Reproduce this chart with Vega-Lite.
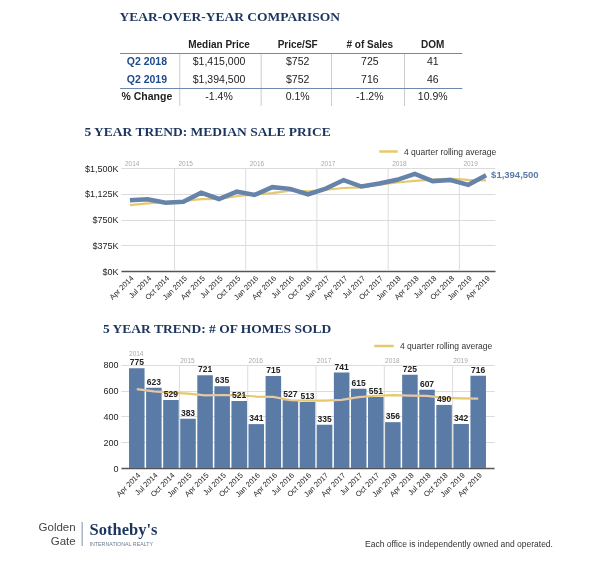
{
  "$schema": "https://vega.github.io/schema/vega-lite/v6.json",
  "background": "white",
  "padding": {"left": 38, "top": 9, "right": 5, "bottom": 5},
  "bounds": "flush",
  "spacing": 62,
  "resolve": {"scale": {"color": "independent"}, "legend": {"color": "independent"}},
  "config": {
    "view": {"stroke": null},
    "font": "Liberation Sans",
    "title": {"font": "Liberation Serif", "fontSize": 13.5, "fontWeight": "bold", "color": "#1c355e", "anchor": "start"},
    "axis": {"labelFont": "Liberation Sans", "labelColor": "#222", "ticks": false, "labelOverlap": false},
    "axisX": {"domain": true, "domainColor": "#555", "domainWidth": 1.5, "labelAngle": -45, "labelFontSize": 7.5, "grid": false, "labelPadding": 3},
    "axisY": {"domain": false, "grid": true, "gridColor": "#dcdcdc", "labelFontSize": 9, "labelPadding": 3, "tickCount": 10}
  },
  "datasets": {
    "q": [
      {"q": "Apr 2014", "price": 1030000, "priceAvg": 960000, "sales": 775, "salesAvg": 613},
      {"q": "Jul 2014", "price": 1044000, "priceAvg": 985000, "sales": 623, "salesAvg": 595},
      {"q": "Oct 2014", "price": 995000, "priceAvg": 1005000, "sales": 529, "salesAvg": 585},
      {"q": "Jan 2015", "price": 1009000, "priceAvg": 1020000, "sales": 383, "salesAvg": 578},
      {"q": "Apr 2015", "price": 1141000, "priceAvg": 1047000, "sales": 721, "salesAvg": 564},
      {"q": "Jul 2015", "price": 1049000, "priceAvg": 1049000, "sales": 635, "salesAvg": 567},
      {"q": "Oct 2015", "price": 1156000, "priceAvg": 1089000, "sales": 521, "salesAvg": 565},
      {"q": "Jan 2016", "price": 1108000, "priceAvg": 1114000, "sales": 341, "salesAvg": 555},
      {"q": "Apr 2016", "price": 1221000, "priceAvg": 1134000, "sales": 715, "salesAvg": 553},
      {"q": "Jul 2016", "price": 1196000, "priceAvg": 1170000, "sales": 527, "salesAvg": 526},
      {"q": "Oct 2016", "price": 1115000, "priceAvg": 1160000, "sales": 513, "salesAvg": 524},
      {"q": "Jan 2017", "price": 1200000, "priceAvg": 1183000, "sales": 335, "salesAvg": 523},
      {"q": "Apr 2017", "price": 1324000, "priceAvg": 1209000, "sales": 741, "salesAvg": 529},
      {"q": "Jul 2017", "price": 1230000, "priceAvg": 1217000, "sales": 615, "salesAvg": 551},
      {"q": "Oct 2017", "price": 1274000, "priceAvg": 1257000, "sales": 551, "salesAvg": 561},
      {"q": "Jan 2018", "price": 1328000, "priceAvg": 1289000, "sales": 356, "salesAvg": 566},
      {"q": "Apr 2018", "price": 1415000, "priceAvg": 1312000, "sales": 725, "salesAvg": 562},
      {"q": "Jul 2018", "price": 1309000, "priceAvg": 1332000, "sales": 607, "salesAvg": 560},
      {"q": "Oct 2018", "price": 1324000, "priceAvg": 1344000, "sales": 490, "salesAvg": 545},
      {"q": "Jan 2019", "price": 1255000, "priceAvg": 1326000, "sales": 342, "salesAvg": 541},
      {"q": "Apr 2019", "price": 1394500, "priceAvg": 1321000, "sales": 716, "salesAvg": 539}
    ],
    "years": [
      {"q": "Apr 2014", "year": "2014"},
      {"q": "Jan 2015", "year": "2015"},
      {"q": "Jan 2016", "year": "2016"},
      {"q": "Jan 2017", "year": "2017"},
      {"q": "Jan 2018", "year": "2018"},
      {"q": "Jan 2019", "year": "2019"}
    ],
    "table": [
      {"row": "Q2 2018", "median": "$1,415,000", "psf": "$752", "sales": "725", "dom": "41"},
      {"row": "Q2 2019", "median": "$1,394,500", "psf": "$752", "sales": "716", "dom": "46"},
      {"row": "% Change", "median": "-1.4%", "psf": "0.1%", "sales": "-1.2%", "dom": "10.9%"}
    ],
    "one": [{}]
  },
  "vconcat": [
    {
      "width": 370,
      "height": 70,
      "title": {"text": "YEAR-OVER-YEAR COMPARISON", "offset": 13},
      "data": {"name": "table"},
      "layer": [
        {"mark": {"type": "rect", "color": "#c8c8c8"}, "encoding": {"x": {"datum": 63, "type": "quantitative", "scale": {"domain": [0, 370]}, "axis": null}, "x2": {"datum": 64}, "y": {"field": "row", "type": "nominal", "scale": {"type": "band", "domain": ["header", "Q2 2018", "Q2 2019", "% Change"], "paddingInner": 0, "paddingOuter": 0}, "axis": null}}},
        {"mark": {"type": "rect", "color": "#c8c8c8"}, "encoding": {"x": {"datum": 151, "type": "quantitative"}, "x2": {"datum": 152}, "y": {"field": "row", "type": "nominal"}}},
        {"mark": {"type": "rect", "color": "#c8c8c8"}, "encoding": {"x": {"datum": 227, "type": "quantitative"}, "x2": {"datum": 228}, "y": {"field": "row", "type": "nominal"}}},
        {"mark": {"type": "rect", "color": "#c8c8c8"}, "encoding": {"x": {"datum": 306, "type": "quantitative"}, "x2": {"datum": 307}, "y": {"field": "row", "type": "nominal"}}},
        {"data": {"name": "one"}, "mark": {"type": "rule", "color": "#6f88ae", "strokeWidth": 1.2}, "encoding": {"x": {"datum": -1, "type": "quantitative"}, "x2": {"datum": 369}, "y": {"datum": "header", "type": "nominal", "bandPosition": 1}}},
        {"data": {"name": "one"}, "mark": {"type": "rule", "color": "#6f88ae", "strokeWidth": 1.2}, "encoding": {"x": {"datum": -1, "type": "quantitative"}, "x2": {"datum": 369}, "y": {"datum": "% Change", "type": "nominal", "bandPosition": 0}}},
        {"data": {"name": "one"}, "mark": {"type": "text", "fontSize": 10, "fontWeight": "bold", "color": "#222"}, "encoding": {"x": {"datum": 106, "type": "quantitative"}, "y": {"datum": "header", "type": "nominal"}, "text": {"value": "Median Price"}}},
        {"data": {"name": "one"}, "mark": {"type": "text", "fontSize": 10, "fontWeight": "bold", "color": "#222"}, "encoding": {"x": {"datum": 191, "type": "quantitative"}, "y": {"datum": "header", "type": "nominal"}, "text": {"value": "Price/SF"}}},
        {"data": {"name": "one"}, "mark": {"type": "text", "fontSize": 10, "fontWeight": "bold", "color": "#222"}, "encoding": {"x": {"datum": 269, "type": "quantitative"}, "y": {"datum": "header", "type": "nominal"}, "text": {"value": "# of Sales"}}},
        {"data": {"name": "one"}, "mark": {"type": "text", "fontSize": 10, "fontWeight": "bold", "color": "#222"}, "encoding": {"x": {"datum": 337, "type": "quantitative"}, "y": {"datum": "header", "type": "nominal"}, "text": {"value": "DOM"}}},
        {"mark": {"type": "text", "fontSize": 10.5, "fontWeight": "bold"}, "encoding": {"x": {"datum": 28, "type": "quantitative"}, "y": {"field": "row", "type": "nominal"}, "text": {"field": "row"}, "color": {"condition": {"test": "datum.row == '% Change'", "value": "#222"}, "value": "#1f4a8a"}}},
        {"mark": {"type": "text", "fontSize": 10.5, "color": "#222"}, "encoding": {"x": {"datum": 106, "type": "quantitative"}, "y": {"field": "row", "type": "nominal"}, "text": {"field": "median"}}},
        {"mark": {"type": "text", "fontSize": 10.5, "color": "#222"}, "encoding": {"x": {"datum": 191, "type": "quantitative"}, "y": {"field": "row", "type": "nominal"}, "text": {"field": "psf"}}},
        {"mark": {"type": "text", "fontSize": 10.5, "color": "#222"}, "encoding": {"x": {"datum": 269, "type": "quantitative"}, "y": {"field": "row", "type": "nominal"}, "text": {"field": "sales"}}},
        {"mark": {"type": "text", "fontSize": 10.5, "color": "#222"}, "encoding": {"x": {"datum": 337, "type": "quantitative"}, "y": {"field": "row", "type": "nominal"}, "text": {"field": "dom"}}}
      ]
    },
    {
      "width": 374,
      "height": 103,
      "title": {"text": "5 YEAR TREND: MEDIAN SALE PRICE", "offset": 3},
      "data": {"name": "q"},
      "layer": [
        {"data": {"name": "years"}, "transform": [{"filter": "datum.year != '2014'"}], "mark": {"type": "rule", "color": "#dcdcdc"}, "encoding": {"x": {"field": "q", "type": "ordinal", "bandPosition": 0}, "y": {"datum": 1500000, "type": "quantitative"}, "y2": {"datum": 0}}},
        {"data": {"name": "years"}, "mark": {"type": "text", "align": "left", "baseline": "bottom", "dx": 4, "dy": -1, "fontSize": 6.5, "color": "#aaaaaa"}, "encoding": {"x": {"field": "q", "type": "ordinal", "bandPosition": 0}, "y": {"datum": 1500000, "type": "quantitative"}, "text": {"field": "year"}}},
        {"mark": {"type": "line", "strokeWidth": 2.2}, "encoding": {"x": {"field": "q", "type": "ordinal", "bandPosition": 0.5}, "y": {"field": "priceAvg", "type": "quantitative"}, "color": {"datum": "4 quarter rolling average", "type": "nominal", "scale": {"range": ["#e6c86e"]}, "legend": {"orient": "none", "legendX": 257, "legendY": -27, "title": null, "symbolType": "stroke", "symbolStrokeWidth": 2.5, "symbolSize": 340, "labelFontSize": 8.5, "labelColor": "#333", "padding": 0, "labelOffset": 5}}}},
        {"mark": {"type": "line", "strokeWidth": 4.5, "color": "#6683aa"}, "encoding": {"x": {"field": "q", "type": "ordinal", "bandPosition": 0.5, "scale": {"type": "band", "domain": ["Apr 2014", "Jul 2014", "Oct 2014", "Jan 2015", "Apr 2015", "Jul 2015", "Oct 2015", "Jan 2016", "Apr 2016", "Jul 2016", "Oct 2016", "Jan 2017", "Apr 2017", "Jul 2017", "Oct 2017", "Jan 2018", "Apr 2018", "Jul 2018", "Oct 2018", "Jan 2019", "Apr 2019"], "paddingInner": 0, "paddingOuter": 0}, "axis": {"title": null}}, "y": {"field": "price", "type": "quantitative", "scale": {"domain": [0, 1500000], "nice": false}, "axis": {"title": null, "values": [0, 375000, 750000, 1125000, 1500000], "labelExpr": "'$' + format(datum.value / 1000, ',') + 'K'"}}}},
        {"transform": [{"filter": "datum.q == 'Apr 2019'"}], "mark": {"type": "text", "align": "left", "dx": 5, "fontSize": 9.5, "fontWeight": "bold", "color": "#5c7aa5"}, "encoding": {"x": {"field": "q", "type": "ordinal", "bandPosition": 0.5}, "y": {"field": "price", "type": "quantitative"}, "text": {"field": "price", "type": "quantitative", "format": "$,.0f"}}}
      ]
    },
    {
      "width": 373,
      "height": 135,
      "title": {"text": "5 YEAR TREND: # OF HOMES SOLD", "offset": -2},
      "data": {"name": "q"},
      "layer": [
        {"data": {"name": "years"}, "transform": [{"filter": "datum.year != '2014'"}], "mark": {"type": "rule", "color": "#dcdcdc"}, "encoding": {"x": {"field": "q", "type": "ordinal", "bandPosition": -0.05}, "y": {"datum": 800, "type": "quantitative"}, "y2": {"datum": 0}}},
        {"mark": {"type": "line", "strokeWidth": 2.2}, "encoding": {"x": {"field": "q", "type": "ordinal", "bandPosition": 0.5}, "y": {"field": "salesAvg", "type": "quantitative"}, "color": {"datum": "4 quarter rolling average", "type": "nominal", "scale": {"range": ["#e6c86e"]}, "legend": {"orient": "none", "legendX": 252, "legendY": 2, "title": null, "symbolType": "stroke", "symbolStrokeWidth": 2.5, "symbolSize": 380, "labelFontSize": 8.5, "labelColor": "#333", "padding": 0, "labelOffset": 5}}}},
        {"mark": {"type": "bar", "color": "#5a7ba5"}, "encoding": {"x": {"field": "q", "type": "ordinal", "scale": {"type": "band", "domain": ["Apr 2014", "Jul 2014", "Oct 2014", "Jan 2015", "Apr 2015", "Jul 2015", "Oct 2015", "Jan 2016", "Apr 2016", "Jul 2016", "Oct 2016", "Jan 2017", "Apr 2017", "Jul 2017", "Oct 2017", "Jan 2018", "Apr 2018", "Jul 2018", "Oct 2018", "Jan 2019", "Apr 2019"], "paddingInner": 0.09, "paddingOuter": 0.47}, "axis": {"title": null}}, "y": {"field": "sales", "type": "quantitative", "scale": {"domain": [0, 1048.5], "nice": false}, "axis": {"title": null, "values": [0, 200, 400, 600, 800]}}}},
        {"mark": {"type": "line", "strokeWidth": 2.2, "color": "#e6c86e", "blend": "lighten"}, "encoding": {"x": {"field": "q", "type": "ordinal", "bandPosition": 0.5}, "y": {"field": "salesAvg", "type": "quantitative"}}},
        {"mark": {"type": "text", "baseline": "bottom", "dy": -1, "fontSize": 8.5, "fontWeight": "bold", "color": "#222"}, "encoding": {"x": {"field": "q", "type": "ordinal", "bandPosition": 0.5}, "y": {"field": "sales", "type": "quantitative"}, "text": {"field": "sales", "type": "quantitative"}}},
        {"data": {"name": "years"}, "transform": [{"filter": "datum.year != '2014'"}], "mark": {"type": "text", "align": "left", "baseline": "bottom", "dy": -1, "fontSize": 6.5, "color": "#aaaaaa"}, "encoding": {"x": {"field": "q", "type": "ordinal", "bandPosition": 0}, "y": {"datum": 800, "type": "quantitative"}, "text": {"field": "year"}}},
        {"data": {"name": "years"}, "transform": [{"filter": "datum.year == '2014'"}], "mark": {"type": "text", "align": "left", "baseline": "bottom", "dy": -8, "fontSize": 6.5, "color": "#aaaaaa"}, "encoding": {"x": {"field": "q", "type": "ordinal", "bandPosition": 0}, "y": {"datum": 800, "type": "quantitative"}, "text": {"field": "year"}}}
      ]
    },
    {
      "width": 370,
      "height": 20,
      "data": {"name": "one"},
      "layer": [
        {"mark": {"type": "text", "align": "right", "baseline": "middle", "fontSize": 11.5, "color": "#444"}, "encoding": {"x": {"datum": -49, "type": "quantitative", "scale": {"domain": [0, 370]}, "axis": null}, "y": {"datum": 22, "type": "quantitative", "scale": {"domain": [0, 20]}, "axis": null}, "text": {"value": "Golden"}}},
        {"mark": {"type": "text", "align": "right", "baseline": "middle", "fontSize": 11.5, "color": "#444"}, "encoding": {"x": {"datum": -49, "type": "quantitative"}, "y": {"datum": 8, "type": "quantitative"}, "text": {"value": "Gate"}}},
        {"mark": {"type": "rule", "color": "#7f8fa6", "strokeWidth": 1}, "encoding": {"x": {"datum": -42, "type": "quantitative"}, "y": {"datum": 28, "type": "quantitative"}, "y2": {"datum": 4}}},
        {"mark": {"type": "text", "align": "left", "baseline": "alphabetic", "font": "Liberation Serif", "fontSize": 16.5, "fontWeight": "bold", "color": "#1c355e"}, "encoding": {"x": {"datum": -34, "type": "quantitative"}, "y": {"datum": 15, "type": "quantitative"}, "text": {"value": "Sotheby's"}}},
        {"mark": {"type": "text", "align": "left", "baseline": "middle", "fontSize": 5.3, "color": "#6c7c92"}, "encoding": {"x": {"datum": -34, "type": "quantitative"}, "y": {"datum": 6.5, "type": "quantitative"}, "text": {"value": "INTERNATIONAL REALTY"}}},
        {"mark": {"type": "text", "align": "right", "baseline": "middle", "fontSize": 8.5, "color": "#333"}, "encoding": {"x": {"datum": 467, "type": "quantitative"}, "y": {"datum": 6, "type": "quantitative"}, "text": {"value": "Each office is independently owned and operated."}}}
      ]
    }
  ]
}
